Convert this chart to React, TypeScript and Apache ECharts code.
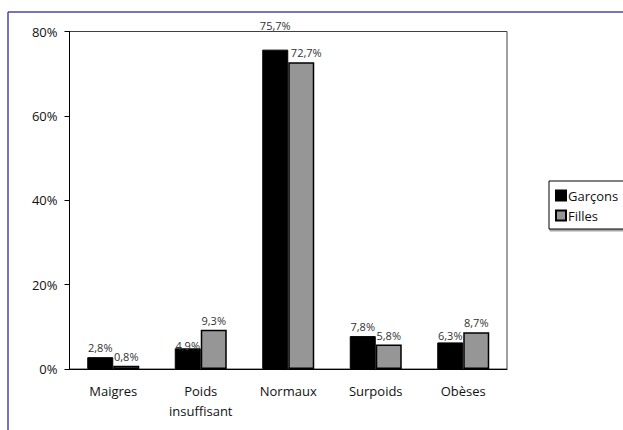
import React, { useEffect, useRef } from 'react';
import * as echarts from 'echarts';

const categories = ['Maigres', 'Poids\ninsuffisant', 'Normaux', 'Surpoids', 'Obèses'];
const seriesNames = ['Garçons', 'Filles'];
const garcons = [2.8, 4.9, 75.7, 7.8, 6.3];
const filles = [0.8, 9.3, 72.7, 5.8, 8.7];
const yMin = 0;
const yMax = 80;
const yInterval = 20;

// label nudges (style only)
const garconsLabelOffsets = [[0, 0], [0, 7], [0, -15], [0, 0], [0, 3]];
const fillesLabelOffsets = [[0, 0], [0, 0], [5, 0], [0, 0], [0, 0]];

const FONT = '"Open Sans", Tahoma, sans-serif';
const fmt = (v: number) => `${v.toFixed(1).replace('.', ',')}%`;

export default function App() {
  const ref = useRef<HTMLDivElement>(null);
  useEffect(() => {
    if (!ref.current) return;
    const chart = echarts.init(ref.current, undefined, { renderer: 'svg' });
    const mk = (vals: number[], offs: number[][]) =>
      vals.map((v, i) => ({ value: v, label: { offset: offs[i] } }));
    const labelCfg = {
      show: true,
      position: 'top',
      distance: 4,
      fontFamily: FONT,
      fontSize: 11,
      color: '#333',
      formatter: (p: any) => fmt(p.value),
    };
    chart.setOption({
      animation: false,
      backgroundColor: '#ffffff',
      textStyle: { fontFamily: FONT },
      graphic: [
        { type: 'line', shape: { x1: 8, y1: 12, x2: 623, y2: 12 }, style: { stroke: '#4646ae', lineWidth: 1.5 } },
        { type: 'line', shape: { x1: 8, y1: 12, x2: 8, y2: 430 }, style: { stroke: '#4646ae', lineWidth: 1.5 } },
      ],
      grid: {
        left: 69.5,
        right: 116,
        top: 31.5,
        bottom: 61,
        show: true,
        borderColor: '#404040',
        borderWidth: 1,
        backgroundColor: 'transparent',
      },
      legend: {
        orient: 'vertical',
        left: 549,
        top: 181,
        data: seriesNames,
        icon: 'rect',
        itemWidth: 10,
        itemHeight: 10,
        itemGap: 7,
        padding: [8, 20, 7, 6],
        borderColor: '#000',
        borderWidth: 1,
        backgroundColor: '#fff',
        shadowColor: 'rgba(0,0,0,0.35)',
        shadowOffsetX: 1,
        shadowOffsetY: 2,
        shadowBlur: 0,
        textStyle: { fontFamily: FONT, fontSize: 13, color: '#111', padding: [0, 0, 0, -3] },
      },
      xAxis: {
        type: 'category',
        data: categories,
        axisLine: { lineStyle: { color: '#000', width: 1 } },
        axisTick: { length: 5, lineStyle: { color: '#000' } },
        axisLabel: { fontFamily: FONT, fontSize: 13, color: '#111', margin: 12, lineHeight: 20 },
        splitLine: { show: false },
      },
      yAxis: {
        type: 'value',
        min: yMin,
        max: yMax,
        interval: yInterval,
        axisLine: { show: true, lineStyle: { color: '#000', width: 1 } },
        axisTick: { show: true, length: 5, lineStyle: { color: '#000' } },
        axisLabel: { fontFamily: FONT, fontSize: 13, color: '#111', margin: 12, formatter: '{value}%' },
        splitLine: { show: false },
      },
      series: [
        {
          name: seriesNames[0],
          type: 'bar',
          data: mk(garcons, garconsLabelOffsets),
          barWidth: 26,
          barGap: '0%',
          itemStyle: { color: '#000000', borderColor: '#000', borderWidth: 1 },
          label: labelCfg,
        },
        {
          name: seriesNames[1],
          type: 'bar',
          data: mk(filles, fillesLabelOffsets),
          barWidth: 26,
          barGap: '0%',
          itemStyle: { color: '#969696', borderColor: '#000', borderWidth: 1.5 },
          label: labelCfg,
        },
      ],
    });
    return () => chart.dispose();
  }, []);
  return (
    <div
      ref={ref}
      style={{ position: 'absolute', left: 0, top: 0, width: 623, height: 430, background: '#fff' }}
    />
  );
}
